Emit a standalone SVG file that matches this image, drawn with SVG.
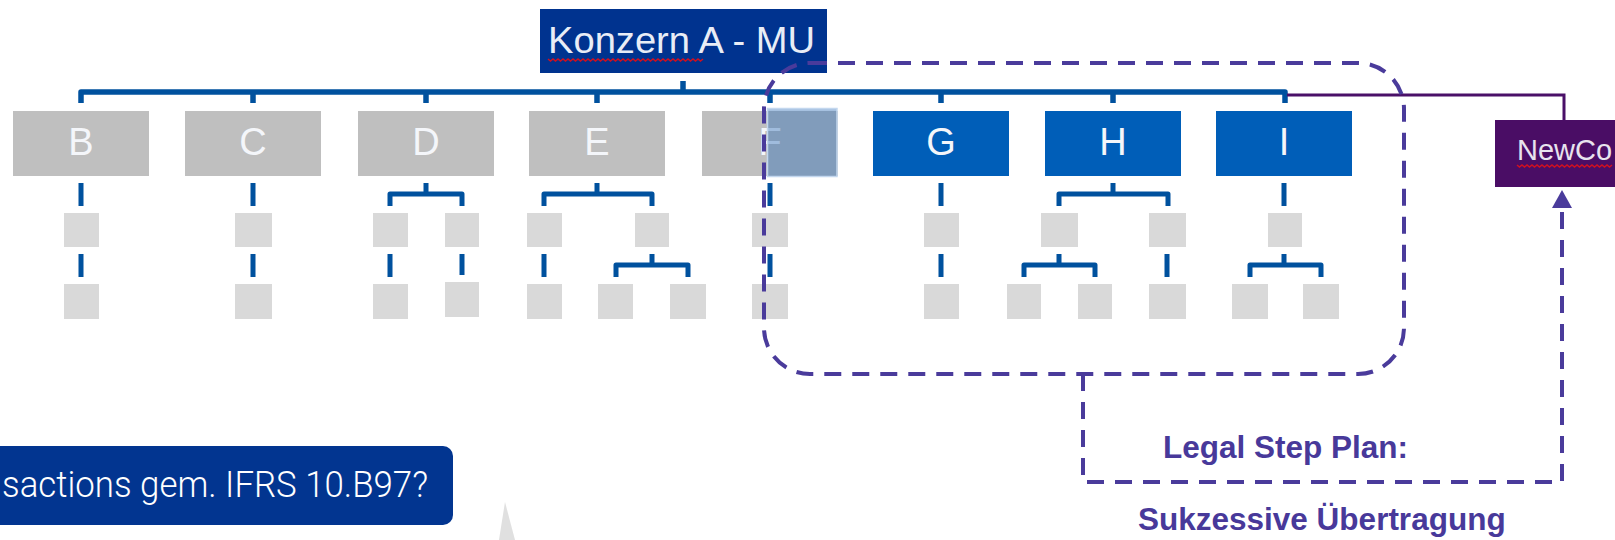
<svg xmlns="http://www.w3.org/2000/svg" width="1615" height="540" viewBox="0 0 1615 540">
  <style>
    .l1g { fill: #BFBFBF; }
    .l1b { fill: #005EB8; }
    .sub { fill: #D9D9D9; }
    .lbl { font-family: "Liberation Sans", Arial, sans-serif; font-size: 38px; fill: #F4F6FA; text-anchor: middle; }
    .bus { fill: none; stroke: #00519E; stroke-width: 5.5; stroke-linejoin: round; stroke-linecap: butt; }
    .tree { fill: none; stroke: #00519E; stroke-width: 5; stroke-linejoin: round; stroke-linecap: butt; }
    .dash { fill: none; stroke: #4A3B9B; stroke-width: 4; stroke-dasharray: 17 11; }
    .spell { fill: none; stroke: #D01020; stroke-width: 1.5; }
    .step { font-family: "Liberation Sans", Arial, sans-serif; font-weight: bold; font-size: 31.5px; fill: #48399A; }
  </style>
  <defs>
    <marker id="arrowUp" viewBox="0 0 18 20" refX="0" refY="10" markerWidth="18" markerHeight="20" markerUnits="userSpaceOnUse" orient="auto">
      <path d="M0,0 L18,10 L0,20 z" fill="#4A3B9B"/>
    </marker>
  </defs>

  <rect width="1615" height="540" fill="#FFFFFF"/>

  <!-- connectors -->
  <g id="connectors">
    <!-- parent stub and main bus -->
    <path class="bus" d="M683 81 V92"/>
    <path class="bus" d="M81 103 V92 H1285 V103"/>
    <path class="bus" d="M253 92 V103 M426 92 V103 M597 92 V103 M770 92 V103 M941 92 V103 M1113 92 V103"/>
    <!-- link to NewCo -->
    <path d="M1287 95 H1564 V120" fill="none" stroke="#4A1068" stroke-width="3"/>
    <!-- second level -->
    <path class="tree" d="M81 183 V206 M253 183 V206 M770 183 V206 M941 183 V206 M1284 183 V206"/>
    <path class="tree" d="M426 183 V194 M390 206 V194 H462 V206"/>
    <path class="tree" d="M597 183 V194 M544 206 V194 H652 V206"/>
    <path class="tree" d="M1113 183 V194 M1059 206 V194 H1168 V206"/>
    <!-- third level -->
    <path class="tree" d="M81 254 V277 M253 254 V277 M390 254 V277 M462 254 V275 M544 254 V277 M770 254 V277 M941 254 V277 M1167 254 V277"/>
    <path class="tree" d="M652 254 V265 M616 277 V265 H688 V277"/>
    <path class="tree" d="M1059 254 V265 M1024 277 V265 H1095 V277"/>
    <path class="tree" d="M1284 254 V265 M1250 277 V265 H1321 V277"/>
    <!-- step plan connector to NewCo -->
    <path class="dash" d="M1083 374 V482 H1562 V208" stroke-linejoin="round" marker-end="url(#arrowUp)"/>
  </g>

  <!-- parent -->
  <g id="konzern">
    <rect x="540" y="9" width="287" height="64" fill="#00338F"/>
    <text x="548" y="53" font-family="'Liberation Sans', Arial, sans-serif" font-size="37.5" fill="#E9EDF6" textLength="267" lengthAdjust="spacingAndGlyphs">Konzern A - MU</text>
    <path class="spell" d="M548 59 l2.5 2 l2.5 -2 l2.5 2 l2.5 -2 l2.5 2 l2.5 -2 l2.5 2 l2.5 -2 l2.5 2 l2.5 -2 l2.5 2 l2.5 -2 l2.5 2 l2.5 -2 l2.5 2 l2.5 -2 l2.5 2 l2.5 -2 l2.5 2 l2.5 -2 l2.5 2 l2.5 -2 l2.5 2 l2.5 -2 l2.5 2 l2.5 -2 l2.5 2 l2.5 -2 l2.5 2 l2.5 -2 l2.5 2 l2.5 -2 l2.5 2 l2.5 -2 l2.5 2 l2.5 -2 l2.5 2 l2.5 -2 l2.5 2 l2.5 -2 l2.5 2 l2.5 -2 l2.5 2 l2.5 -2 l2.5 2 l2.5 -2 l2.5 2 l2.5 -2 l2.5 2 l2.5 -2 l2.5 2 l2.5 -2 l2.5 2 l2.5 -2 l2.5 2 l2.5 -2 l2.5 2 l2.5 -2 l2.5 2 l2.5 -2 l2.5 2 l2.5 -2"/>
  </g>

  <!-- first-level subsidiaries -->
  <g id="node-b"><rect class="l1g" x="13" y="111" width="136" height="65"/><text class="lbl" x="81" y="155">B</text></g>
  <g id="node-c"><rect class="l1g" x="185" y="111" width="136" height="65"/><text class="lbl" x="253" y="155">C</text></g>
  <g id="node-d"><rect class="l1g" x="358" y="111" width="136" height="65"/><text class="lbl" x="426" y="155">D</text></g>
  <g id="node-e"><rect class="l1g" x="529" y="111" width="136" height="65"/><text class="lbl" x="597" y="155">E</text></g>
  <g id="node-f">
    <rect class="l1g" x="702" y="111" width="136" height="65"/>
    <text class="lbl" x="770" y="155">F</text>
    <rect x="767.5" y="108.5" width="69.5" height="68" fill="#2A6BB4" fill-opacity="0.42" stroke="#C3D7EE" stroke-width="1.5"/>
  </g>
  <g id="node-g"><rect class="l1b" x="873" y="111" width="136" height="65"/><text class="lbl" x="941" y="155">G</text></g>
  <g id="node-h"><rect class="l1b" x="1045" y="111" width="136" height="65"/><text class="lbl" x="1113" y="155">H</text></g>
  <g id="node-i"><rect class="l1b" x="1216" y="111" width="136" height="65"/><text class="lbl" x="1284" y="155">I</text></g>

  <!-- second-level subsidiaries -->
  <g id="b1"><rect class="sub" x="64" y="213" width="35" height="34"/></g>
  <g id="c1"><rect class="sub" x="235" y="213" width="37" height="34"/></g>
  <g id="d1"><rect class="sub" x="373" y="213" width="35" height="34"/></g>
  <g id="d2"><rect class="sub" x="445" y="213" width="34" height="34"/></g>
  <g id="e1"><rect class="sub" x="527" y="213" width="35" height="34"/></g>
  <g id="e2"><rect class="sub" x="635" y="213" width="34" height="34"/></g>
  <g id="f1"><rect class="sub" x="752" y="213" width="36" height="34"/></g>
  <g id="g1"><rect class="sub" x="924" y="213" width="35" height="34"/></g>
  <g id="h1"><rect class="sub" x="1041" y="213" width="37" height="34"/></g>
  <g id="h2"><rect class="sub" x="1149" y="213" width="37" height="34"/></g>
  <g id="i1"><rect class="sub" x="1268" y="213" width="34" height="34"/></g>

  <!-- third-level subsidiaries -->
  <g id="b2"><rect class="sub" x="64" y="284" width="35" height="35"/></g>
  <g id="c2"><rect class="sub" x="235" y="284" width="37" height="35"/></g>
  <g id="d11"><rect class="sub" x="373" y="284" width="35" height="35"/></g>
  <g id="d21"><rect class="sub" x="445" y="282" width="34" height="35"/></g>
  <g id="e11"><rect class="sub" x="527" y="284" width="35" height="35"/></g>
  <g id="e21"><rect class="sub" x="598" y="284" width="35" height="35"/></g>
  <g id="e22"><rect class="sub" x="670" y="284" width="36" height="35"/></g>
  <g id="f2"><rect class="sub" x="752" y="284" width="36" height="35"/></g>
  <g id="g2"><rect class="sub" x="924" y="284" width="35" height="35"/></g>
  <g id="h11"><rect class="sub" x="1007" y="284" width="34" height="35"/></g>
  <g id="h12"><rect class="sub" x="1078" y="284" width="34" height="35"/></g>
  <g id="h21"><rect class="sub" x="1149" y="284" width="37" height="35"/></g>
  <g id="i11"><rect class="sub" x="1232" y="284" width="36" height="35"/></g>
  <g id="i12"><rect class="sub" x="1303" y="284" width="36" height="35"/></g>

  <!-- transferred scope -->
  <g id="scope">
    <rect class="dash" x="764" y="63" width="640" height="311" rx="46" ry="46"/>
  </g>

  <!-- new company -->
  <g id="newco">
    <rect x="1495" y="120" width="130" height="67" fill="#4A0D65"/>
    <text x="1517" y="160" font-family="'Liberation Sans', Arial, sans-serif" font-size="29" fill="#E8E3EE">NewCo</text>
    <path class="spell" d="M1517 165 l2.5 2 l2.5 -2 l2.5 2 l2.5 -2 l2.5 2 l2.5 -2 l2.5 2 l2.5 -2 l2.5 2 l2.5 -2 l2.5 2 l2.5 -2 l2.5 2 l2.5 -2 l2.5 2 l2.5 -2 l2.5 2 l2.5 -2 l2.5 2 l2.5 -2 l2.5 2 l2.5 -2 l2.5 2 l2.5 -2 l2.5 2 l2.5 -2 l2.5 2 l2.5 -2 l2.5 2 l2.5 -2 l2.5 2 l2.5 -2 l2.5 2 l2.5 -2 l2.5 2 l2.5 -2 l2.5 2 l2.5 -2"/>
  </g>

  <!-- step plan caption -->
  <g id="step-plan">
    <text class="step" x="1163" y="458">Legal Step Plan:</text>
    <text class="step" x="1138" y="530">Sukzessive Übertragung</text>
  </g>

  <!-- question callout -->
  <g id="callout">
    <rect x="-12" y="446" width="465" height="79" rx="10" ry="10" fill="#023590"/>
    <text x="2" y="497" font-family="Roboto, 'Liberation Sans', sans-serif" font-weight="300" font-size="36" fill="#FFFFFF" textLength="426" lengthAdjust="spacingAndGlyphs">sactions gem. IFRS 10.B97?</text>
  </g>
  <polygon points="505,502 499,540 515,540" fill="#E0E0E0"/>
</svg>
